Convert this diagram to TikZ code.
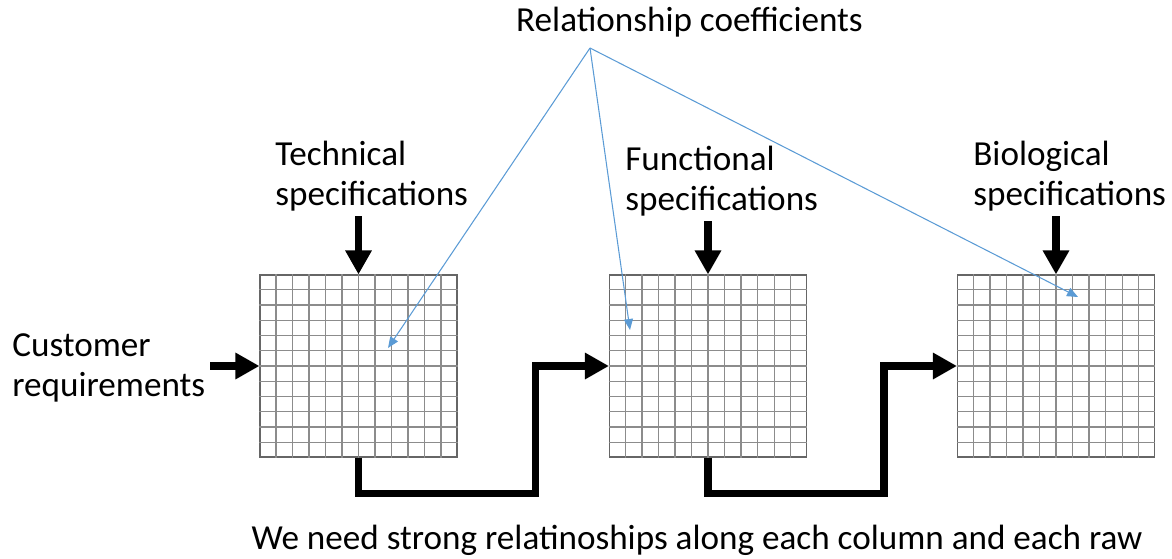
\documentclass[tikz,border=0pt]{standalone}
\usepackage{fontspec}
\setmainfont{Carlito}
\usepackage{xcolor}
\usepackage{tikz}
\usetikzlibrary{arrows.meta,calc}

\definecolor{linkblue}{HTML}{5B9BD5}

\begin{document}
\begin{tikzpicture}[
  gridbox/.style = {draw = black!60, line width = 0.6pt, minimum width = 3.94cm, minimum height = 3.64cm, inner sep = 0pt},
  gridline/.style = {black!45, line width = 0.6pt},
  flow/.style = {line width = 4pt, line join = miter, -{Triangle[length = 0.48cm, width = 0.5cm]}},
  link/.style = {linkblue, line width = 0.6pt, -{Triangle[length = 0.22cm, width = 0.18cm]}},
  lbl/.style = {inner sep = 0pt, align = left, font = \fontsize{20}{22.8}\selectfont}
]
\useasboundingbox (0,0) rectangle (23.44,11.16);

\node[gridbox] at(7.17,3.84) (tech) {};
\node[gridbox] at(14.16,3.84) (func) {};
\node[gridbox] at(21.12,3.84) (bio) {};

\foreach \g in {tech,func,bio} {
  \foreach \k in {1,...,11} {
    \draw[gridline] ($(\g.south west)!\k/12!(\g.south east)$) -- ($(\g.north west)!\k/12!(\g.north east)$);
    \draw[gridline] ($(\g.south west)!\k/12!(\g.north west)$) -- ($(\g.south east)!\k/12!(\g.north east)$);
  }
}


\node[lbl, anchor = west] at(0.24,3.81) (custtxt) {Customer\\requirements};
\node[lbl, anchor = west] at(5.5,7.64) (techtxt) {Technical\\specifications};
\node[lbl, anchor = west] at(12.5,7.54) (functxt) {Functional\\specifications};
\node[lbl, anchor = west] at(19.46,7.64) (biotxt) {Biological\\specifications};
\node[lbl] at(13.79,10.72) (coeftxt) {Relationship coefficients};
\node[lbl] at(13.94,0.36) (note) {We need strong relatinoships along each column and each raw};


\draw[flow] (custtxt.east |- tech.west) ++(0.1,0) -- (tech.west);
\draw[flow] (tech.north |- techtxt.south) ++(0,-0.1) -- (tech.north);
\draw[flow] (func.north |- functxt.south) ++(0,-0.1) -- (func.north);
\draw[flow] (bio.north |- biotxt.south) ++(0,-0.1) -- (bio.north);


\draw[flow] (tech.south) -- ++(0,-0.72) -- ++(3.54,0) |- (func.west);
\draw[flow] (func.south) -- ++(0,-0.72) -- ++(3.52,0) |- (bio.west);


\coordinate (hub) at(11.8,10.2);
\coordinate (c1) at(7.76,4.2);
\coordinate (c2) at(12.6,4.56);
\coordinate (c3) at(21.56,5.22);

\draw[link] (hub) -- (c1);
\draw[link] (hub) -- (c2);
\draw[link] (hub) -- (c3);
\end{tikzpicture}
\end{document}
